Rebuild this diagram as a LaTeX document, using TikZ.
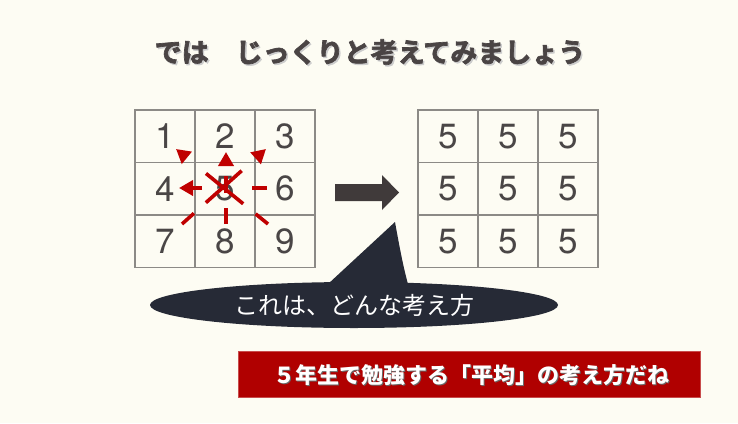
\documentclass[tikz,border=0pt]{standalone}
\usepackage{fontspec}
\newfontfamily\jp{Noto Sans CJK JP}
\newfontfamily\jpheavy[FakeBold=2.5]{Noto Sans CJK JP Bold}
\newfontfamily\digits{TeX Gyre Heros}
\usetikzlibrary{arrows.meta,shapes.geometric}
\definecolor{bg}{HTML}{FDFCF3}
\definecolor{numc}{HTML}{4A4646}
\definecolor{gridc}{HTML}{8C8A86}
\definecolor{redc}{HTML}{C00000}
\definecolor{bannerc}{HTML}{B00000}
\definecolor{navy}{HTML}{262A36}
\definecolor{arrowc}{HTML}{403A3A}
\definecolor{titlec}{HTML}{4A4444}
\tikzset{
  cell/.style={draw=gridc, line width=1.1pt, minimum width=60pt, minimum height=52.5pt, inner sep=0pt, text=numc, font=\digits\fontsize{35}{35}\selectfont},
  redline/.style={draw=redc, line width=3.6pt, -{Triangle[length=14pt,width=15pt]}},
}
\begin{document}
\begin{tikzpicture}[x=1pt,y=-1pt]
\fill[bg] (0,0) rectangle (738,423);
\useasboundingbox (0,0) rectangle (738,423);
% title
\node[text=gray!40, font=\jpheavy\fontsize{27}{27}\selectfont] at (371.5,53.5) {では　じっくりと考えてみましょう};
\node[text=titlec, font=\jpheavy\fontsize{27}{27}\selectfont] (title) at (370,52) {では　じっくりと考えてみましょう};
% left grid
\foreach \n/\cx/\ry in {1/165/136.25,2/225/136.25,3/285/136.25,4/165/188.75,5/225/188.75,6/285/188.75,7/165/241.25,8/225/241.25,9/285/241.25}{
  \node[cell] (L\n) at (\cx,\ry) {\n};
}
% right grid
\foreach \n/\cx/\ry in {1/448/136.25,2/508/136.25,3/568/136.25,4/448/188.75,5/508/188.75,6/568/188.75,7/448/241.25,8/508/241.25,9/568/241.25}{
  \node[cell] (R\n) at (\cx,\ry) {5};
}
% red arrows
\coordinate (hs) at (267,188);
\coordinate (he) at (179,188);
\coordinate (vs) at (226,224);
\coordinate (ve) at (226,152);
\coordinate (nws) at (268,224);
\coordinate (nwe) at (176,149);
\coordinate (nes) at (182,224);
\coordinate (nee) at (266,149);
\draw[redline, dash pattern=on 15pt off 50pt on 40pt] (hs) -- (he);
\draw[redline, dash pattern=on 16pt off 15pt on 17pt off 30pt] (vs) -- (ve);
\draw[redline, dash pattern=on 16pt off 16pt on 48pt off 40pt] (nws) -- (nwe);
\draw[redline, dash pattern=on 16pt off 16pt on 48pt off 40pt] (nes) -- (nee);
% block arrow
\fill[arrowc] (335,184) -- (382,184) -- (382,175) -- (399,192.5) -- (382,210) -- (382,201) -- (335,201) -- cycle;
% callout
\fill[navy] (328,284) -- (395,222) .. controls (400,250) and (404,270) .. (408,284) -- cycle;
\node[ellipse, fill=navy, minimum width=408pt, minimum height=46pt, inner sep=0pt] (callout) at (354,305) {};
\node[text=white, font=\jp\fontsize{24}{24}\selectfont] at (callout.center) {これは、どんな考え方};
% banner
\node[fill=bannerc, draw=bannerc!70!white, line width=0.6pt, minimum width=462pt, minimum height=46pt, inner sep=0pt] (banner) at (469,374) {};
\node[text=black!60, font=\jp\bfseries\fontsize{22}{22}\selectfont] at (472.5,376.5) {５年生で勉強する「平均」の考え方だね};
\node[text=white, font=\jp\bfseries\fontsize{22}{22}\selectfont] at (471,375) {５年生で勉強する「平均」の考え方だね};
\end{tikzpicture}
\end{document}
